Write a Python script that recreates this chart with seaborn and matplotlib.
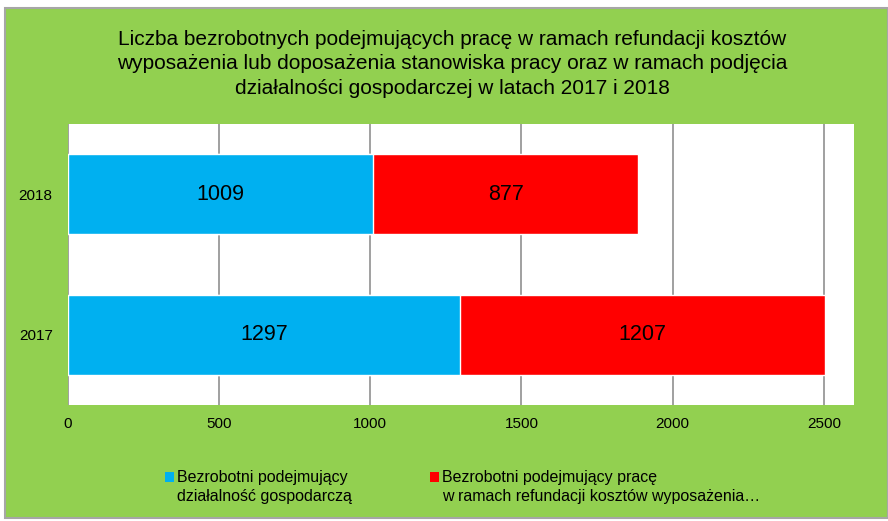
import matplotlib
matplotlib.use("Agg")
import matplotlib.pyplot as plt
from matplotlib.patches import Rectangle
import pandas as pd
import seaborn as sns

lata = ["2018", "2017"]
dzialalnosc = [1009, 1297]
refundacja = [877, 1207]
etykiety = ["Bezrobotni podejmujący\ndziałalność gospodarczą",
            "Bezrobotni podejmujący pracę\nw ramach refundacji kosztów wyposażenia…"]
tytul = ("Liczba bezrobotnych podejmujących pracę w ramach refundacji kosztów\n"
         "wyposażenia lub doposażenia stanowiska pracy oraz w ramach podjęcia\n"
         "działalności gospodarczej w latach 2017 i 2018")

sns.set_style("white")
plt.rcParams['font.family'] = ['Liberation Sans', 'DejaVu Sans']
plt.rcParams['text.color'] = 'black'
plt.rcParams['xtick.color'] = 'black'
plt.rcParams['ytick.color'] = 'black'

ZIELONY = "#92D050"
NIEBIESKI = "#00B0F0"
CZERWONY = "#FF0000"

df = pd.DataFrame({"rok": lata, "dz": dzialalnosc, "ref": refundacja})
df["suma"] = df["dz"] + df["ref"]

fig = plt.figure(figsize=(8.88, 5.21), dpi=100)
fig.patch.set_facecolor("white")
# zielone tlo z szara ramka
fig.patches.append(Rectangle((5 / 888, 3 / 521), 883 / 888, 510 / 521, transform=fig.transFigure,
                             facecolor=ZIELONY, edgecolor="#A6A6A6", linewidth=1.5, zorder=-10))

ax = fig.add_axes([68 / 888, 1 - 405 / 521, 786 / 888, 281 / 521])
ax.set_zorder(1)
ax.set_facecolor("white")

# slupki skumulowane: najpierw suma (czerwony), potem dzialalnosc (niebieski)
sns.barplot(data=df, x="suma", y="rok", order=lata, color=CZERWONY, width=0.57,
            saturation=1, ax=ax, zorder=3)
sns.barplot(data=df, x="dz", y="rok", order=lata, color=NIEBIESKI, width=0.57,
            saturation=1, ax=ax, zorder=3)

for i, (a, b) in enumerate(zip(dzialalnosc, refundacja)):
    ax.text(a / 2, i, str(a), ha="center", va="center", fontsize=15.5, zorder=4)
    ax.text(a + b / 2, i, str(b), ha="center", va="center", fontsize=15.5, zorder=4)

ax.set_xlim(0, 2600)
ax.set_ylim(1.5, -0.5)
ax.set_xticks([0, 500, 1000, 1500, 2000, 2500])
ax.xaxis.grid(True, color="#989898", linewidth=1.3, zorder=1)
ax.set_axisbelow(True)
ax.tick_params(axis="both", length=0, labelsize=11)
ax.tick_params(axis="x", pad=9)
ax.tick_params(axis="y", pad=11)
ax.set_xlabel("")
ax.set_ylabel("")
for s in ax.spines.values():
    s.set_visible(False)

fig.text(0.509, 1 - 30 / 521, tytul, ha="center", va="top", fontsize=15, linespacing=1.35)

# legenda
for x0, kolor, tekst in [(165, NIEBIESKI, etykiety[0]), (430, CZERWONY, etykiety[1])]:
    fig.patches.append(Rectangle((x0 / 888, 1 - 482 / 521), 9 / 888, 10 / 521,
                                 transform=fig.transFigure, facecolor=kolor, edgecolor="none"))
    fig.text((x0 + 12) / 888, 1 - 470 / 521, tekst, ha="left", va="top", fontsize=11.5,
             linespacing=1.3)

fig.savefig("out.png", dpi=100, facecolor=fig.get_facecolor())
